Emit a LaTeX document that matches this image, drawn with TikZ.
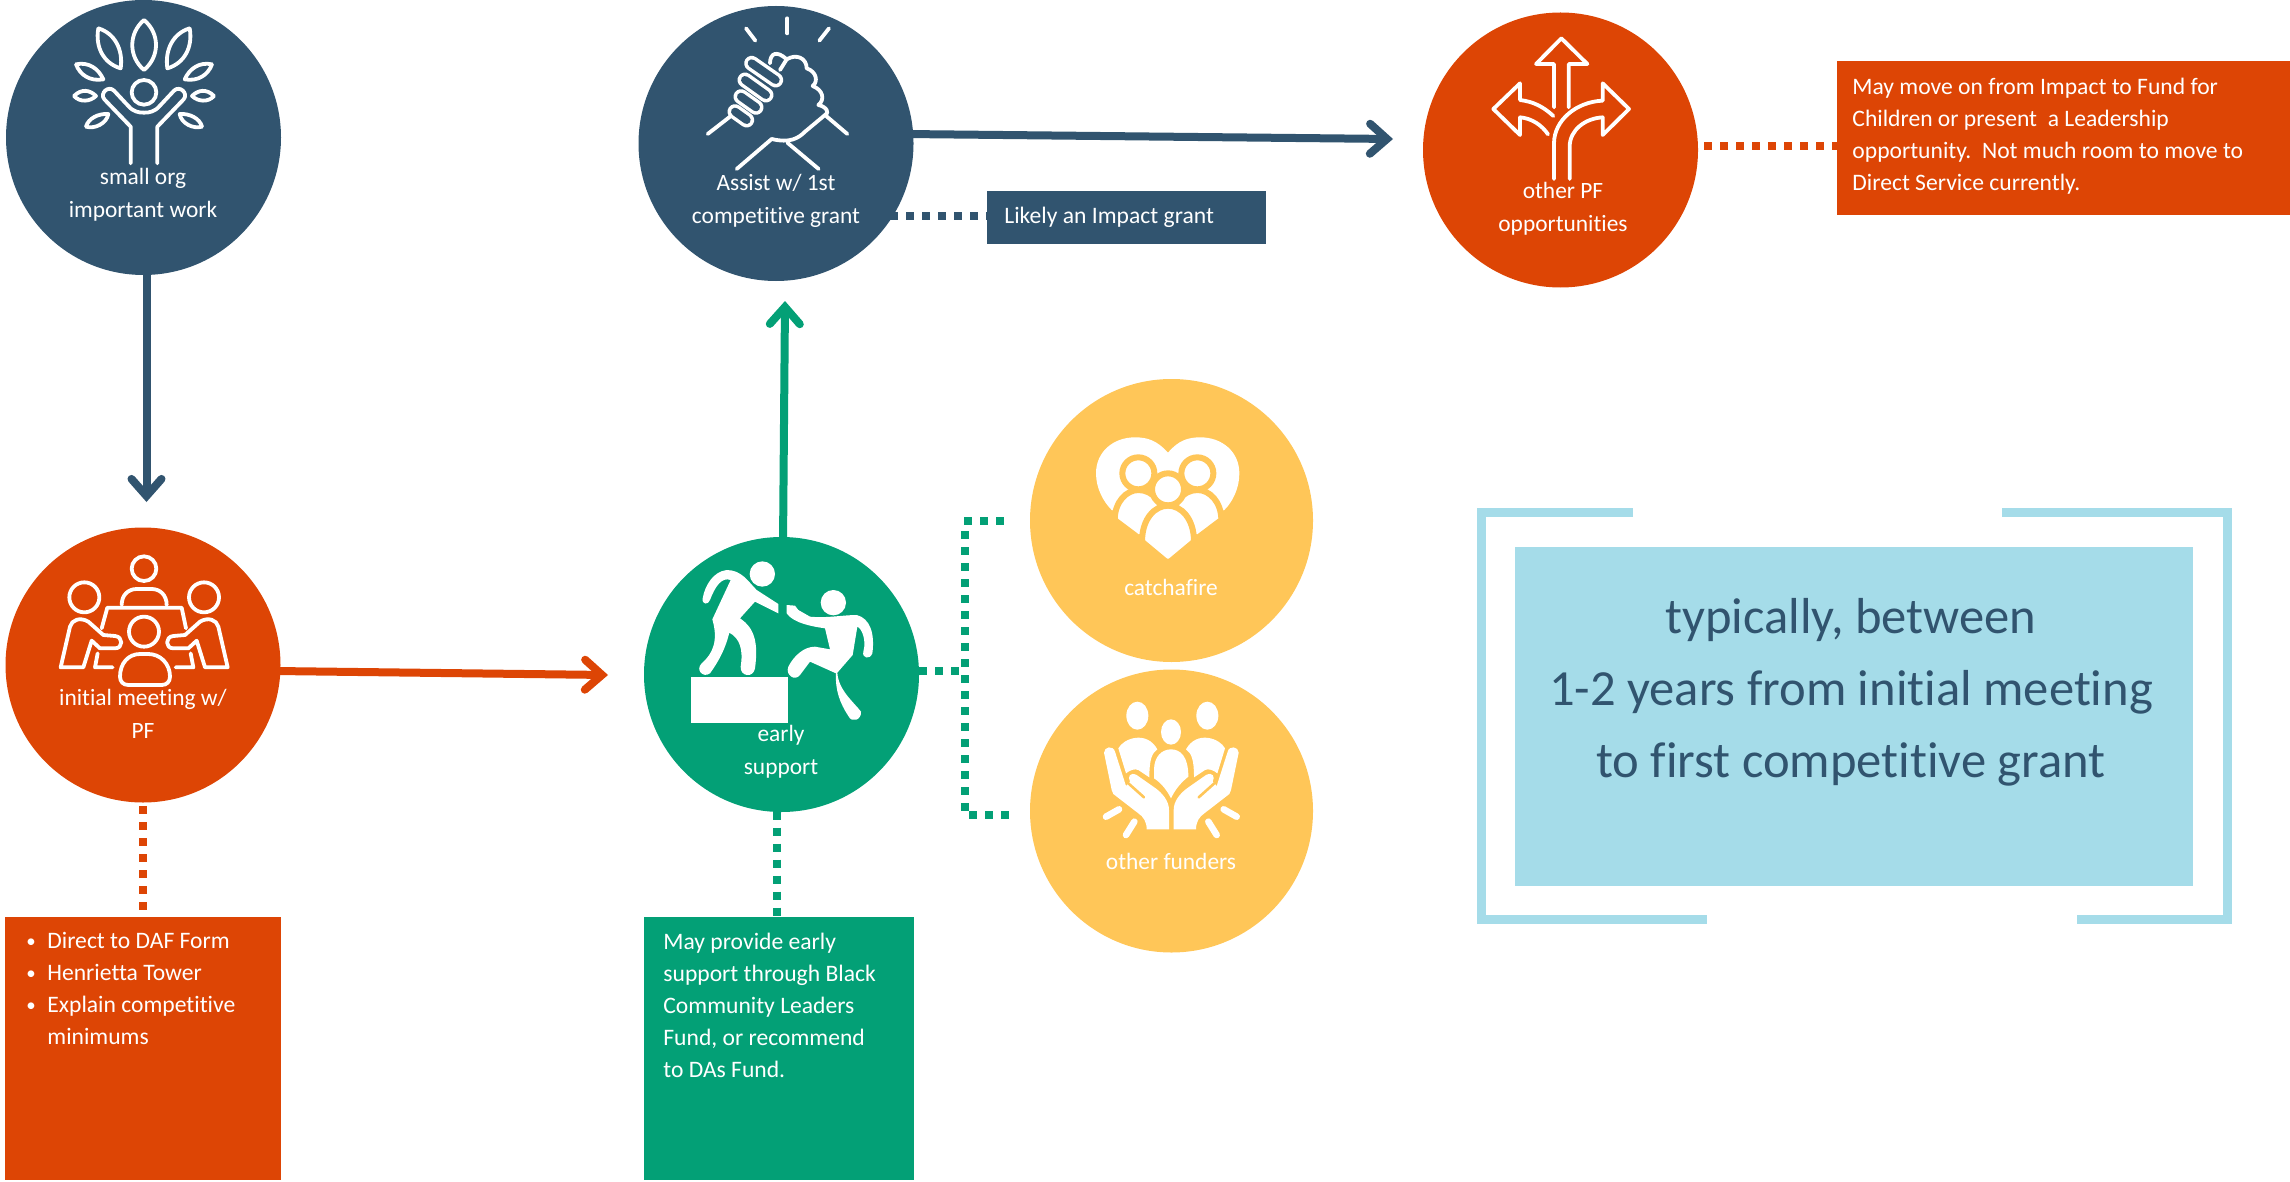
\documentclass[tikz,border=0pt]{standalone}
\usepackage{fontspec}
\setmainfont{Carlito}[Ligatures=NoCommon]
\usetikzlibrary{arrows.meta}
\definecolor{cblue}{HTML}{31546F}
\definecolor{corange}{HTML}{DD4505}
\definecolor{cgreen}{HTML}{03A076}
\definecolor{cyellow}{HTML}{FFC658}
\definecolor{clight}{HTML}{A5DCE9}
\newcommand{\capsule}[3]{\draw[white,line width=7.5pt,line cap=round] #1 -- #2; \draw[#3,line width=4.0pt,line cap=round] #1 -- #2;}
\newcommand{\bul}{\makebox[10.5pt][l]{\raisebox{.5pt}{\scalebox{.8}{•}}}}
\newcommand{\nobul}{\makebox[10.5pt][l]{}}
\tikzset{
 disc/.style={circle,minimum size=#1,inner sep=0pt,outer sep=0pt},
 box/.style={rectangle,inner sep=0pt,outer sep=0pt,anchor=north west},
 lbl/.style={text=white,align=center,inner sep=0pt,font=\fontsize{11.7}{16.4}\selectfont},
 boxtxt/.style={text=white,align=left,inner sep=0pt,anchor=north west,font=\fontsize{11.8}{16}\selectfont},
 icon/.style={white,line width=1.9pt,line cap=round,line join=round},
 iconscope/.style={shift={#1},x=.16667pt,y=-.16667pt},
 flow/.style={line width=4pt,-{Straight Barb[line cap=round,line join=miter,length=8.5pt,width=15pt,line width=4pt]}},
 dots/.style={line width=4pt,dash pattern=on 4pt off 4pt},
 bracket/.style={clight,line width=4.5pt,line join=miter}
}
\begin{document}
\begin{tikzpicture}[x=.5pt,y=-.5pt]
\useasboundingbox (0,0) rectangle (2290,1182);
% connectors behind circles
\coordinate (t1) at (146.5,502);
\coordinate (s1) at (146.5,270);
\coordinate (t2) at (608,675);
\coordinate (s2) at (275,671);
\coordinate (t3) at (785,301);
\coordinate (s3) at (783,545);
\coordinate (t4) at (1393,139);
\coordinate (s4) at (905,134);
\coordinate (j1) at (960,671);
\coordinate (j2a) at (964,521);
\coordinate (j2b) at (1005,521);
\coordinate (j3a) at (964.5,531);
\coordinate (j3b) at (964.5,812);
\coordinate (j4a) at (969,815);
\coordinate (j4b) at (1009,815);
\draw[flow,cblue] (s1) -- (t1);
\draw[flow,corange] (s2) -- (t2);
\draw[flow,cgreen] (s3) -- (t3);
\draw[flow,cblue] (s4) -- (t4);
% circles
\node[disc=137.5pt,fill=cblue] (smallorg) at (143.5,137.5) {};
\node[disc=137.5pt,fill=corange] (meeting) at (143,665) {};
\node[disc=137.5pt,fill=cblue] (assist) at (776,143.5) {};
\node[disc=137.5pt,fill=cgreen] (early) at (781.5,674.5) {};
\node[disc=141.5pt,fill=cyellow] (catch) at (1171.5,520.5) {};
\node[disc=141.5pt,fill=cyellow] (funders) at (1171.5,811) {};
\node[disc=137.5pt,fill=corange] (otherpf) at (1560.5,150) {};
% boxes
\node[box,fill=corange,minimum width=138pt,minimum height=131.5pt] (box1) at (5,917) {};
\node[box,fill=cgreen,minimum width=135pt,minimum height=131.5pt] (box2) at (644,917) {};
\node[box,fill=cblue,minimum width=139.5pt,minimum height=26.5pt] (box3) at (987,191) {};
\node[box,fill=corange,minimum width=226.5pt,minimum height=77pt] (box4) at (1837,61) {};
\node[box,fill=clight,minimum width=339pt,minimum height=169.5pt] (box5) at (1515,547) {};
% dotted
\draw[dots,corange] (meeting) ++(0,141) coordinate (d1) -- (box1.north -| d1);
\draw[dots,cgreen] (early) ++(-5,137) coordinate (d2) -- (box2.north -| d2);
\draw[dots,cblue] (assist) ++(114,72.5) coordinate (d3) -- (box3.west |- d3);
\draw[dots,corange] (otherpf) ++(143.5,-4) coordinate (d4) -- (box4.west |- d4);
\draw[dots,cgreen] (early.east |- j1) -- (j1);
\draw[dots,cgreen] (j2a) -- (j2b);
\draw[dots,cgreen] (j3a) -- (j3b);
\draw[dots,cgreen] (j4a) -- (j4b);
% brackets
\coordinate (b1) at (1633,512.5);
\coordinate (b2) at (1481.7,512.5);
\coordinate (b3) at (1481.7,919.5);
\coordinate (b4) at (1707,919.5);
\coordinate (b5) at (2002,512.5);
\coordinate (b6) at (2227.5,512.5);
\coordinate (b7) at (2227.5,919.5);
\coordinate (b8) at (2077,919.5);
\draw[bracket] (b1) -- (b2) -- (b3) -- (b4);
\draw[bracket] (b5) -- (b6) -- (b7) -- (b8);
% labels
\node[lbl] (l1) at (143,195) {small org\\important work};
\node[lbl] (l2) at (143,714) {initial meeting w/\\PF};
\node[lbl] (l3) at (776,201) {Assist w/ 1st\\competitive grant};
\node[lbl] (l4) at (781,752) {early\\support};
\node[lbl] (l5) at (1171,587) {catchafire};
\node[lbl] (l6) at (1171,861) {other funders};
\node[lbl] (l7) at (1563,209) {other PF\\opportunities};
% box texts
\node[boxtxt] (t-a) at (26,931.5) {\bul Direct to DAF Form\\\bul Henrietta Tower\\\bul Explain competitive\\\nobul minimums};
\node[boxtxt] (t-b) at (663,932.5) {May provide early\\support through Black\\Community Leaders\\Fund, or recommend\\to DAs Fund.};
\node[boxtxt] (t-c) at (1004,207) {Likely an Impact grant};
\node[boxtxt] (t-d) at (1852,78) {May move on from Impact to Fund for\\Children or present\ \ a Leadership\\opportunity.\ \ Not much room to move to\\Direct Service currently.};
\node[text=cblue,align=center,inner sep=0pt,font=\fontsize{25.3}{36}\selectfont] (t-e) at (1851,692) {typically, between\\1-2 years from initial meeting\\to first competitive grant};
% icon: tree person
\begin{scope}[iconscope={(0,0)}]
 \draw[icon] (432,60) .. controls (385,100) and (385,170) .. (432,210) .. controls (480,170) and (480,100) .. (432,60);
 \draw[icon] (295,85) .. controls (345,100) and (370,150) .. (362,205) .. controls (310,190) and (285,140) .. (295,85);
 \draw[icon] (569,85) .. controls (519,100) and (494,150) .. (502,205) .. controls (554,190) and (579,140) .. (569,85);
 \draw[icon] (228,193) .. controls (265,185) and (295,205) .. (310,238) .. controls (270,245) and (240,225) .. (228,193);
 \draw[icon] (636,193) .. controls (599,185) and (569,205) .. (554,238) .. controls (594,245) and (624,225) .. (636,193);
 \draw[icon] (222,288) .. controls (245,265) and (270,270) .. (288,288) .. controls (270,305) and (240,308) .. (222,288);
 \draw[icon] (642,288) .. controls (619,265) and (594,270) .. (576,288) .. controls (594,305) and (624,308) .. (642,288);
 \draw[icon] (258,380) .. controls (265,355) and (295,340) .. (325,342) .. controls (320,370) and (285,388) .. (258,380);
 \draw[icon] (606,380) .. controls (599,355) and (569,340) .. (539,342) .. controls (544,370) and (579,388) .. (606,380);
 \draw[icon] (432,277) circle[radius=37];
 \draw[icon] (392,490) -- (392,380) -- (313,298) .. controls (298,280) and (325,255) .. (342,272) -- (385,318) .. controls (400,335) and (415,338) .. (432,338) .. controls (449,338) and (464,335) .. (479,318) -- (522,272) .. controls (539,255) and (566,280) .. (551,298) -- (472,380) -- (472,490);
\end{scope}
% icon: meeting
\begin{scope}[iconscope={(0,520)}]
 \draw[icon] (432,146) circle[radius=37];
 \draw[icon] (365,255) .. controls (365,225) and (385,207) .. (410,207) -- (455,207) .. controls (480,207) and (500,225) .. (500,255);
 \draw[icon] (305,325) -- (322,263) -- (545,263) -- (558,325);
 \draw[icon] (253,232) circle[radius=45];
 \draw[icon] (612,232) circle[radius=45];
 \draw[icon] (432,335) circle[radius=45];
 \draw[icon] (360,470) .. controls (360,430) and (385,402) .. (420,402) -- (445,402) .. controls (480,402) and (510,430) .. (510,470) .. controls (510,485) and (500,495) .. (485,495) -- (385,495) .. controls (370,495) and (360,485) .. (360,470) -- cycle;
 \draw[icon] (182,442) -- (210,320) .. controls (215,300) and (240,290) .. (265,305) -- (310,345) -- (345,348) .. controls (370,350) and (370,385) .. (345,385) -- (300,385) -- (275,362) -- (250,442) -- cycle;
 \draw[icon] (683,442) -- (655,320) .. controls (650,300) and (625,290) .. (600,305) -- (555,345) -- (520,348) .. controls (495,350) and (495,385) .. (520,385) -- (565,385) -- (590,362) -- (615,442) -- cycle;
 \draw[icon] (293,400) -- (285,442) -- (338,442);
 \draw[icon] (572,400) -- (580,442) -- (527,442);
\end{scope}
% icon: handshake
\begin{scope}[iconscope={(630,0)}]
 \draw[icon] (348,85) -- (376,122);
 \draw[icon] (472,55) -- (472,100);
 \draw[icon] (597,85) -- (568,122);
 \draw[icon] (233,402) -- (300,350);
 \draw[icon] (320,507) -- (425,417) .. controls (480,430) and (505,415) .. (525,395) -- (585,345) -- (652,402);
 \draw[icon] (472,428) -- (566,507);
 \capsule{(315,335)}{(350,360)}{cblue}
 \capsule{(333,290)}{(378,322)}{cblue}
 \capsule{(345,240)}{(408,285)}{cblue}
 \capsule{(365,190)}{(437,240)}{cblue}
 \draw[icon] (420,190) .. controls (420,160) and (440,150) .. (470,178) -- (450,210);
 \draw[icon] (470,178) .. controls (500,160) and (530,175) .. (530,205) .. controls (560,215) and (565,245) .. (548,258) .. controls (580,270) and (585,300) .. (565,315) .. controls (590,320) and (600,340) .. (585,345);
\end{scope}
% icon: arrows
\begin{scope}[iconscope={(1420,30)}]
 \draw[icon] (402,232) -- (402,102) -- (348,102) -- (424,25) -- (502,102) -- (446,102) -- (446,232);
 \draw[icon] (400,258) .. controls (370,230) and (340,215) .. (300,210) -- (300,160) -- (220,237) -- (300,315) -- (300,262) .. controls (335,265) and (365,285) .. (384,313);
 \draw[icon] (402,447) -- (402,340) .. controls (402,270) and (470,215) .. (548,212) -- (548,160) -- (627,237) -- (548,315) -- (548,262) .. controls (495,265) and (449,300) .. (449,350) -- (449,447);
\end{scope}
% icon: stepping up
\begin{scope}[iconscope={(630,530)}]
 \fill[white] (183,441) rectangle (473,578);
 \fill[white] (397,132) circle[radius=38];
 \fill[white] (610,218) circle[radius=38];
 \fill[white] (218,205) .. controls (225,165) and (250,125) .. (290,120) .. controls (335,120) and (355,155) .. (380,180) -- (445,222) -- (445,250) -- (375,215) -- (330,265) .. controls (375,295) and (385,340) .. (375,415) .. controls (370,445) and (330,440) .. (332,410) .. controls (340,360) and (330,325) .. (298,308) .. controls (285,360) and (265,395) .. (240,430) .. controls (220,445) and (195,420) .. (215,400) .. controls (250,370) and (265,330) .. (247,268) -- (302,150) .. controls (275,140) and (255,170) .. (240,210) .. controls (235,225) and (215,225) .. (218,205) -- cycle;
 \fill[white] (470,225) -- (495,227) -- (505,240) -- (540,260) .. controls (590,265) and (640,255) .. (680,255) .. controls (720,265) and (735,310) .. (727,370) .. controls (720,390) and (695,385) .. (700,365) .. controls (710,330) and (695,295) .. (682,290) -- (668,375) -- (622,428) .. controls (625,480) and (670,515) .. (693,545) .. controls (695,570) and (665,580) .. (655,558) .. controls (630,520) and (615,480) .. (618,430) -- (540,395) -- (510,435) .. controls (495,455) and (465,435) .. (475,410) .. controls (490,380) and (520,350) .. (555,350) -- (600,358) -- (585,295) .. controls (550,290) and (490,280) .. (470,250) -- cycle;
\end{scope}
% icon: heart
\begin{scope}[iconscope={(1020,440)}]
 \fill[white] (444,38) .. controls (410,0) and (380,-8) .. (345,-8) .. controls (280,-8) and (228,35) .. (228,100) .. controls (228,145) and (250,185) .. (275,210) -- (444,260) -- (613,210) .. controls (638,185) and (658,145) .. (658,100) .. controls (658,35) and (606,-8) .. (541,-8) .. controls (506,-8) and (476,0) .. (444,38) -- cycle;
 \begin{scope}[cyellow,line width=3pt]
 \filldraw[fill=white] (355,100) circle[radius=48];
 \filldraw[fill=white] (532,100) circle[radius=48];
 \filldraw[fill=white] (284,240) .. controls (284,185) and (320,150) .. (355,150) .. controls (400,150) and (430,190) .. (430,240) -- (357,295) -- cycle;
 \filldraw[fill=white] (604,240) .. controls (604,185) and (568,150) .. (533,150) .. controls (488,150) and (458,190) .. (458,240) -- (531,295) -- cycle;
 \filldraw[fill=white] (444,148) circle[radius=48];
 \filldraw[fill=white] (366,305) .. controls (366,235) and (405,197) .. (444,197) .. controls (483,197) and (522,235) .. (522,305) -- (450,365) -- (438,365) -- cycle;
 \end{scope}
\end{scope}
% icon: hands
\begin{scope}[iconscope={(1020,680)}]
 \fill[white] (352,107) ellipse[x radius=33,y radius=42];
 \fill[white] (562,107) ellipse[x radius=33,y radius=42];
 \fill[white] (453,156) ellipse[x radius=30,y radius=38];
 \fill[white] (295,205) .. controls (310,175) and (380,150) .. (412,208) .. controls (395,220) and (388,240) .. (388,292) -- (355,270) .. controls (345,265) and (330,270) .. (318,280) -- cycle;
 \fill[white] (615,205) .. controls (600,175) and (530,150) .. (498,208) .. controls (515,220) and (522,240) .. (522,292) -- (555,270) .. controls (565,265) and (580,270) .. (592,280) -- cycle;
 \fill[white] (402,270) .. controls (402,230) and (425,208) .. (453,208) .. controls (482,208) and (505,230) .. (505,290) .. controls (480,310) and (465,330) .. (453,355) .. controls (440,330) and (425,310) .. (402,295) -- cycle;
 \fill[white] (252,218) .. controls (252,200) and (280,195) .. (285,215) -- (318,318) -- (330,305) .. controls (322,290) and (330,275) .. (350,285) -- (400,320) .. controls (430,340) and (447,365) .. (447,390) -- (447,448) -- (380,448) .. controls (380,425) and (370,410) .. (355,400) -- (280,342) -- (275,330) -- cycle;
 \fill[white] (656,218) .. controls (656,200) and (628,195) .. (623,215) -- (590,318) -- (578,305) .. controls (586,290) and (578,275) .. (558,285) -- (508,320) .. controls (478,340) and (461,365) .. (461,390) -- (461,448) -- (528,448) .. controls (528,425) and (538,410) .. (553,400) -- (628,342) -- (633,330) -- cycle;
 \draw[cyellow,line width=1.3pt,line cap=round] (325,310) -- (372,352);
 \draw[cyellow,line width=1.3pt,line cap=round] (583,310) -- (536,352);
 \draw[white,line width=3.3pt,line cap=round] (258,410) -- (297,388);
 \draw[white,line width=3.3pt,line cap=round] (318,465) -- (343,425);
 \draw[white,line width=3.3pt,line cap=round] (650,410) -- (611,388);
 \draw[white,line width=3.3pt,line cap=round] (590,465) -- (565,425);
\end{scope}
\end{tikzpicture}
\end{document}
